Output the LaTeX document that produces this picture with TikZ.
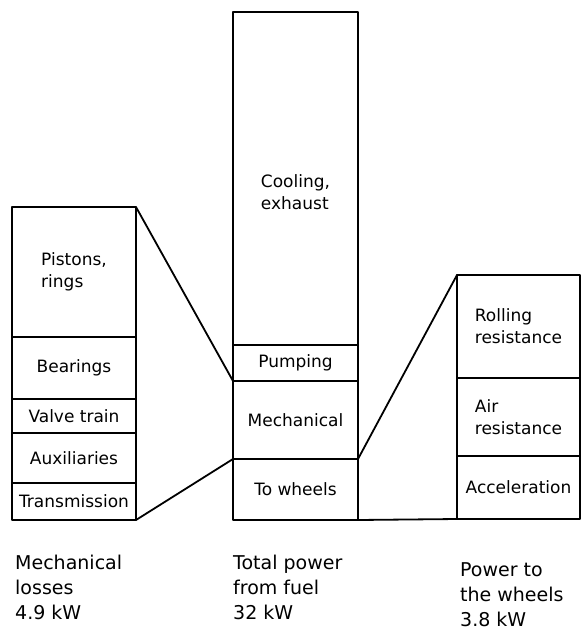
\documentclass[tikz,border=0pt]{standalone}
\usepackage{fontspec}
\setmainfont{DejaVu Sans}
\usepackage{tikz}
\usetikzlibrary{positioning}

\begin{document}
\begin{tikzpicture}[x=1pt,y=-1pt,line cap=round,line join=round,
  seg/.style={draw,line width=1.8pt,rectangle,inner sep=2pt,outer sep=0pt,align=left,
    font=\fontsize{17}{22}\selectfont},
  segl/.style={seg,minimum width=124pt},
  segc/.style={seg,minimum width=125pt},
  segr/.style={seg,minimum width=123pt},
  caption/.style={anchor=north west,inner sep=0pt,align=left,font=\fontsize{19}{25}\selectfont}]
\useasboundingbox (0,0) rectangle (581,633);
% left column: mechanical losses
\node[segl,anchor=north west,minimum height=130pt] (pistons) at (12,207) {Pistons,\\rings};
\node[segl,below=0pt of pistons,minimum height=62pt] (bearings) {Bearings};
\node[segl,below=0pt of bearings,minimum height=34pt] (valve) {Valve train};
\node[segl,below=0pt of valve,minimum height=50pt] (aux) {Auxiliaries};
\node[segl,below=0pt of aux,minimum height=37pt] (trans) {Transmission};
% centre column: total power from fuel
\node[segc,anchor=north west,minimum height=333pt] (cooling) at (233,12) {};
\node[font=\fontsize{17}{22}\selectfont,align=left] (coolingtxt) at ([yshift=-14pt]cooling.center) {Cooling,\\exhaust};
\node[segc,below=0pt of cooling,minimum height=36pt] (pumping) {Pumping};
\node[segc,below=0pt of pumping,minimum height=78pt] (mech) {Mechanical};
\node[segc,below=0pt of mech,minimum height=61pt] (wheels) {To wheels};
% right column: power to the wheels
\node[segr,anchor=north west,minimum height=103pt] (rolling) at (457,275) {Rolling\\resistance};
\node[segr,below=0pt of rolling,minimum height=78pt] (air) {Air\\resistance};
\node[segr,below=0pt of air,minimum height=63pt] (accel) {Acceleration};
% connectors
\draw[line width=1.8pt] (pistons.north east) -- (mech.north west);
\draw[line width=1.8pt] (trans.south east) -- (wheels.north west);
\draw[line width=1.8pt] (wheels.north east) -- (rolling.north west);
\draw[line width=1.8pt] (wheels.south east) -- (accel.south west);
% captions
\node[caption] (mechcap) at (15,555) {Mechanical\\losses\\4.9 kW};
\node[caption] (totalcap) at (233,555) {Total power\\from fuel\\32 kW};
\node[caption] (wheelcap) at (460,562) {Power to\\the wheels\\3.8 kW};
\end{tikzpicture}
\end{document}
